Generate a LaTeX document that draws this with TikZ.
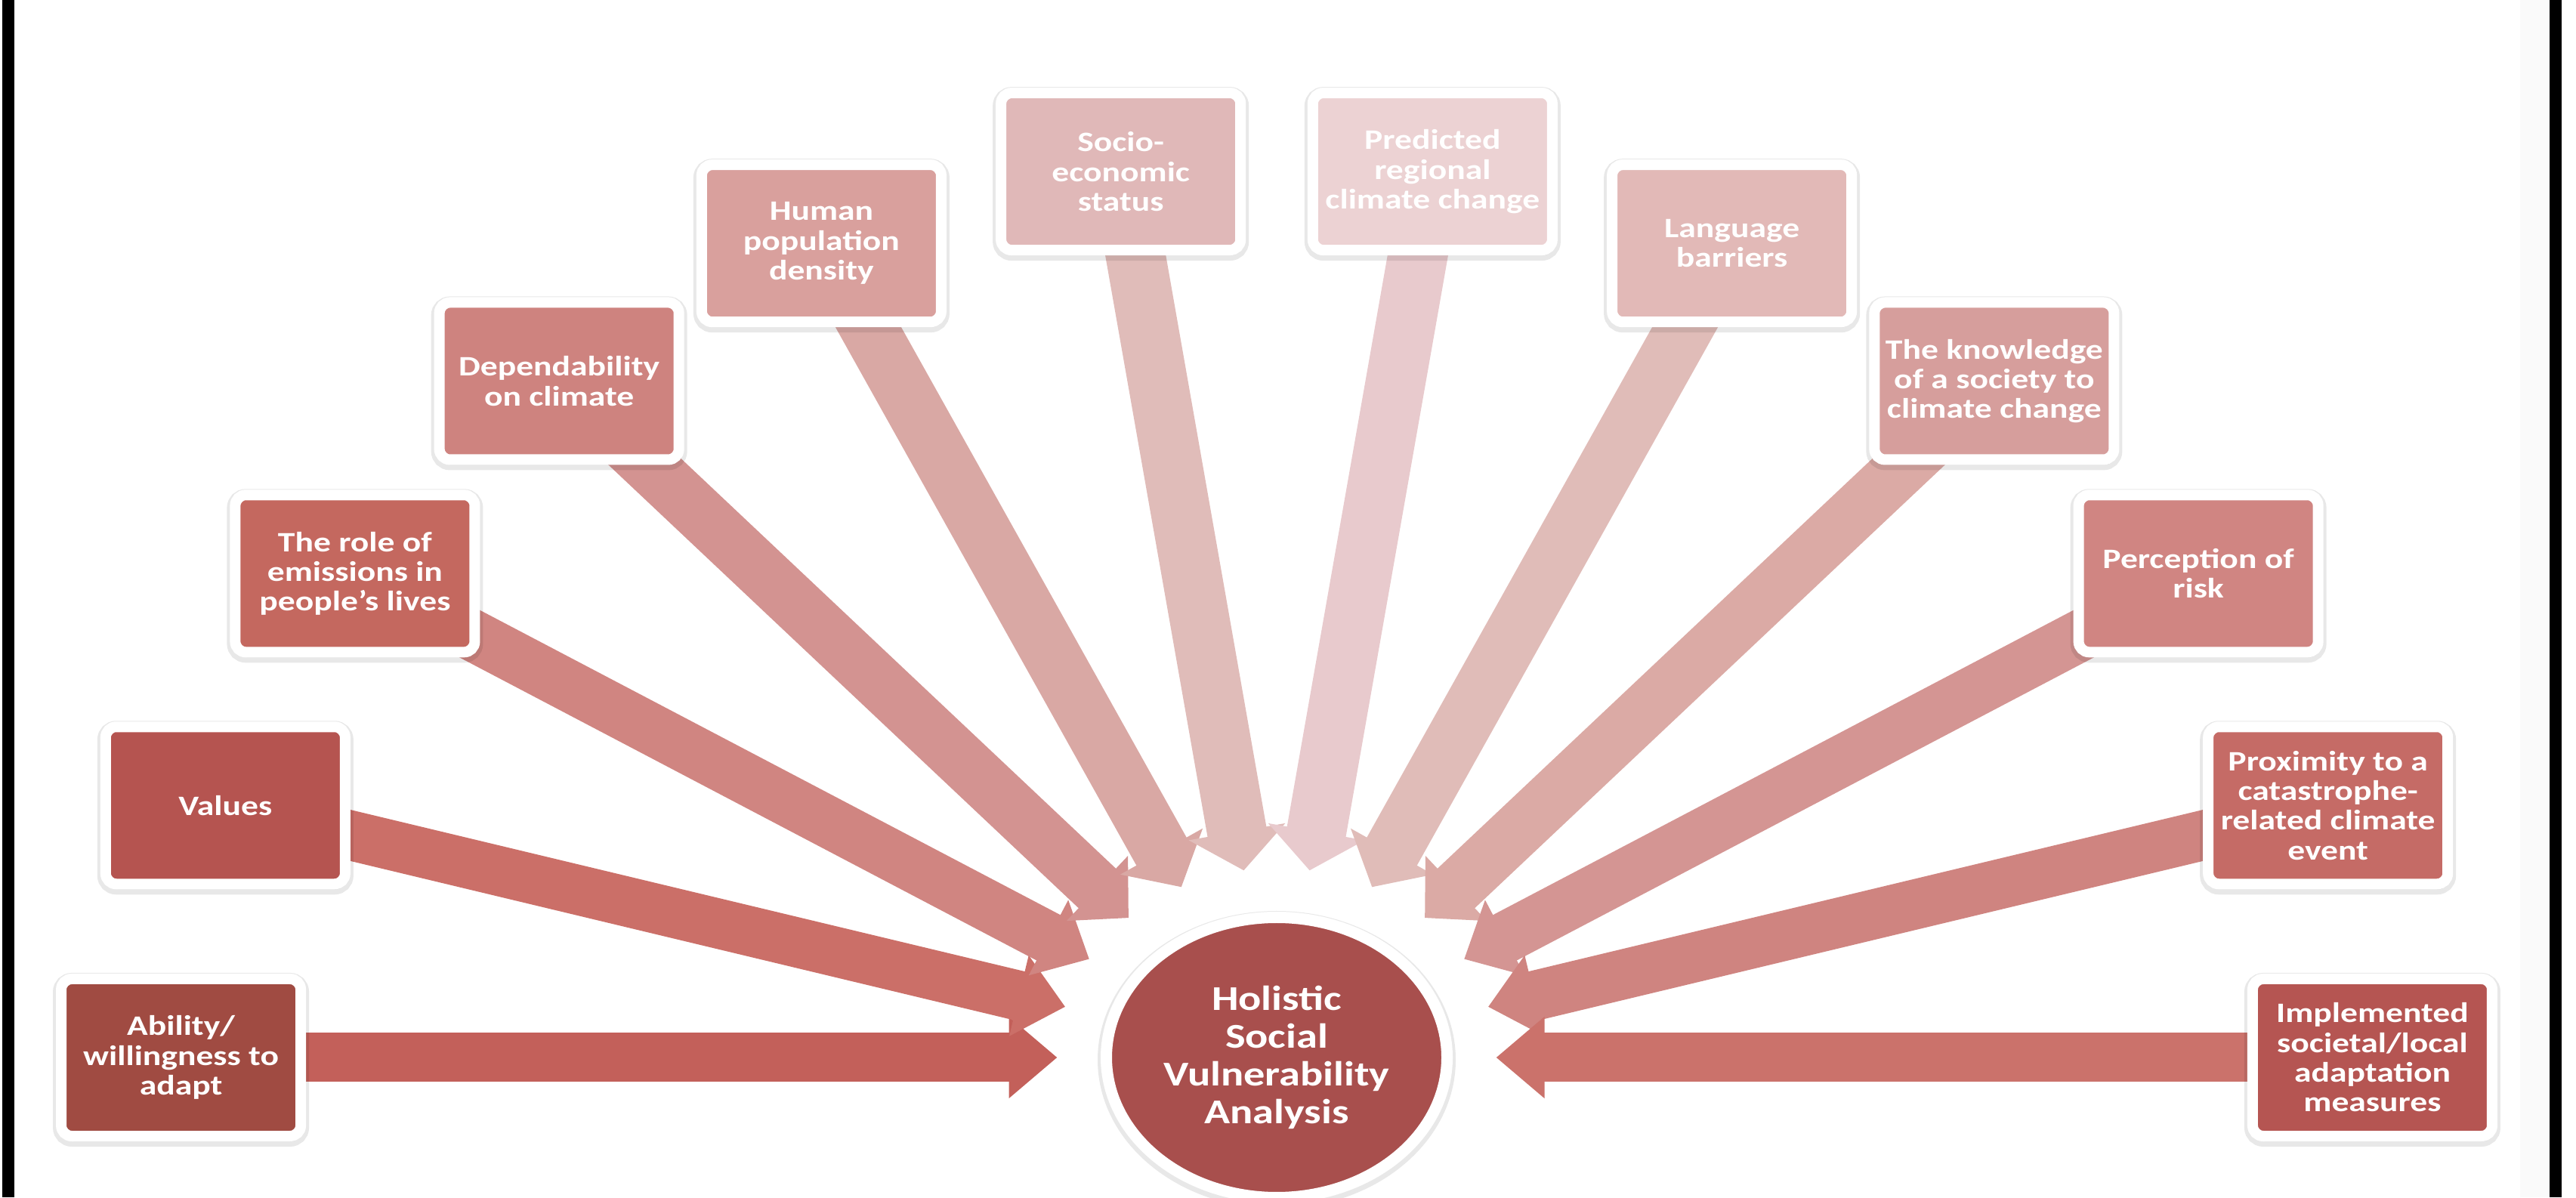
\documentclass[tikz,border=0pt]{standalone}
\usepackage{fontspec}
\setmainfont[FakeStretch=1.224]{Carlito}
\usetikzlibrary{arrows.meta,shapes.geometric,shadows}
\pgfdeclarelayer{background}
\pgfsetlayers{background,main}

% box fills, from the ends towards the top
\definecolor{c1}{HTML}{A04B42}
\definecolor{c2}{HTML}{B55450}
\definecolor{c3}{HTML}{C4685F}
\definecolor{c4}{HTML}{CE837F}
\definecolor{c5}{HTML}{D9A09D}
\definecolor{c6}{HTML}{E0B8B8}
\definecolor{c7}{HTML}{ECD2D3}
\definecolor{c8}{HTML}{E2B9B7}
\definecolor{c9}{HTML}{D69E9C}
\definecolor{c10}{HTML}{D08582}
\definecolor{c11}{HTML}{C56B66}
\definecolor{c12}{HTML}{B55552}
% arrow fills
\definecolor{a1}{HTML}{C3605A}
\definecolor{a2}{HTML}{CB6F68}
\definecolor{a3}{HTML}{D08581}
\definecolor{a4}{HTML}{D39391}
\definecolor{a5}{HTML}{D9A8A4}
\definecolor{a6}{HTML}{E0BCB9}
\definecolor{a7}{HTML}{E8CACD}
\definecolor{a8}{HTML}{E0BCB8}
\definecolor{a9}{HTML}{DBAAA5}
\definecolor{a10}{HTML}{D49593}
\definecolor{a11}{HTML}{CF8480}
\definecolor{a12}{HTML}{CB726B}
\definecolor{hubred}{HTML}{A84F4D}

\begin{document}
\begin{tikzpicture}[
	halo/.style={preaction={draw=black, opacity=0.09, line width=#1,
		transform canvas={yshift=-0.03cm}}},
	box/.style={rectangle, rounded corners=0.14cm, draw=white, line width=0.14cm,
		minimum width=3.17cm, minimum height=2.08cm, inner sep=0pt, align=center,
		text=white, font=\bfseries\fontsize{10.6}{11.2}\selectfont, halo=0.22cm,
		drop shadow={shadow xshift=0.02cm, shadow yshift=-0.07cm, opacity=0.15}},
	arr/.style n args={3}{line width=#1cm, -{Triangle[width=#2cm, length=#3cm]}},
	]
	\useasboundingbox (0,0) rectangle (34.10,15.85);

	% window edges
	\fill[gray!4] (33.36,0) rectangle (33.75,15.85);
	\fill[black] (0.03,0) rectangle (0.19,15.85);
	\fill[black] (33.75,0) rectangle (33.91,15.85);

	\node[ellipse, fill=hubred, draw=white, line width=0.15cm,
		minimum width=4.51cm, minimum height=3.71cm, inner sep=0pt, outer sep=0.65cm,
		text=white, align=center, font=\bfseries\fontsize{13.1}{14.2}\selectfont,
		halo=0.23cm,
		drop shadow={shadow xshift=0cm, shadow yshift=-0.05cm, opacity=0.12}]
		(hub) at (16.90,1.85) {Holistic\\Social\\Vulnerability\\Analysis};

	% factors on a half circle round the hub
	\begin{scope}[shift={(16.90,1.85)}, xscale=1.224]
		\node[box, fill=c1] (b1) at (180:11.85) {Ability/\\willingness to\\adapt};
		\node[box, fill=c2] (b2) at (163.64:11.85) {Values};
		\node[box, fill=c3] (b3) at (147.27:11.85) {The role of\\emissions in\\people’s lives};
		\node[box, fill=c4] (b4) at (130.91:11.85) {Dependability\\on climate};
		\node[box, fill=c5] (b5) at (114.55:11.85) {Human\\population\\density};
		\node[box, fill=c6] (b6) at (98.18:11.85) {Socio-\\economic\\status};
		\node[box, fill=c7] (b7) at (81.82:11.85) {Predicted\\regional\\climate change};
		\node[box, fill=c8] (b8) at (65.45:11.85) {Language\\barriers};
		\node[box, fill=c9] (b9) at (49.09:11.85) {The knowledge\\of a society to\\climate change};
		\node[box, fill=c10] (b10) at (32.73:11.85) {Perception of\\risk};
		\node[box, fill=c11] (b11) at (16.36:11.85) {Proximity to a\\catastrophe-\\related climate\\event};
		\node[box, fill=c12] (b12) at (0:11.85) {Implemented\\societal/local\\adaptation\\measures};
	\end{scope}

	\begin{pgfonlayer}{background}
		\draw[arr={0.65}{1.04}{0.64}, a1] (b1.center) -- (hub);
		\draw[arr={0.66}{1.06}{0.63}, a2] (b2.center) -- (hub);
		\draw[arr={0.68}{1.09}{0.61}, a3] (b3.center) -- (hub);
		\draw[arr={0.72}{1.15}{0.57}, a4] (b4.center) -- (hub);
		\draw[arr={0.76}{1.22}{0.54}, a5] (b5.center) -- (hub);
		\draw[arr={0.79}{1.27}{0.52}, a6] (b6.center) -- (hub);
		\draw[arr={0.79}{1.27}{0.52}, a7] (b7.center) -- (hub);
		\draw[arr={0.76}{1.22}{0.54}, a8] (b8.center) -- (hub);
		\draw[arr={0.72}{1.15}{0.57}, a9] (b9.center) -- (hub);
		\draw[arr={0.68}{1.09}{0.61}, a10] (b10.center) -- (hub);
		\draw[arr={0.66}{1.06}{0.63}, a11] (b11.center) -- (hub);
		\draw[arr={0.65}{1.04}{0.64}, a12] (b12.center) -- (hub);
	\end{pgfonlayer}
\end{tikzpicture}
\end{document}
